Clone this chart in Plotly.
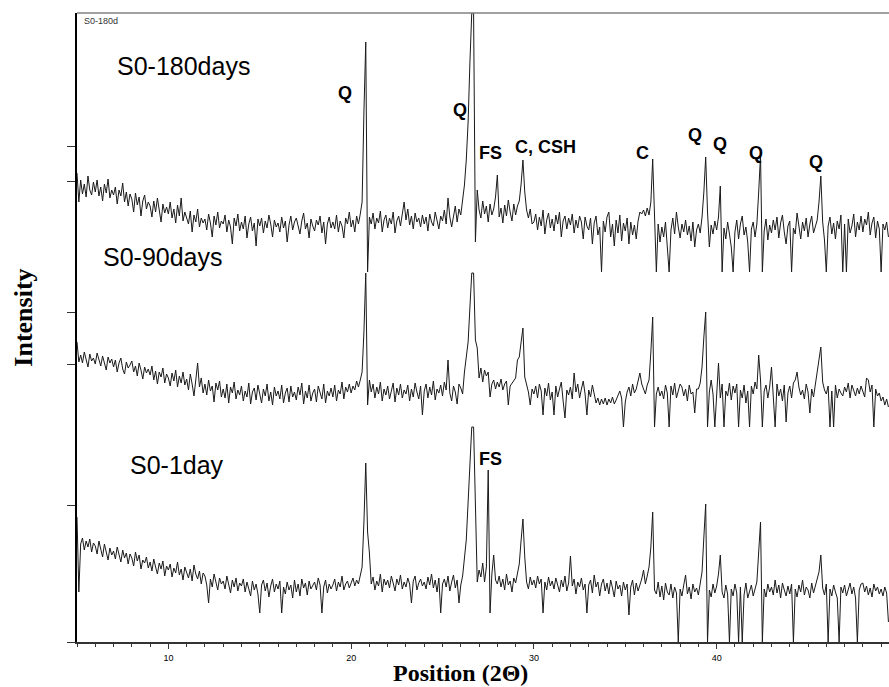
import numpy as np
import plotly.graph_objects as go

# ---------------- data ----------------
theta_start = 5.0
theta_step = 0.1

# S0-180days (offset trace, arbitrary intensity units)
s0_180days = [
    469, 440, 462, 448, 458, 445, 466, 452, 447, 460,   # 5
    450, 462, 446, 455, 441, 458, 449, 463, 444, 452,   # 6
    447, 455, 438, 452, 446, 459, 440, 450, 436, 448,   # 7
    443, 430, 449, 437, 445, 426, 441, 447, 433, 440,   # 8
    436, 425, 441, 430, 444, 432, 420, 438, 429, 435,   # 9
    428, 440, 424, 433, 419, 437, 426, 444, 421, 430,   # 10
    425, 418, 431, 410, 427, 420, 433, 415, 424, 419,   # 11
    423, 412, 428, 419, 405, 426, 417, 430, 414, 421,   # 12
    418, 427, 410, 422, 415, 398, 424, 416, 428, 411,   # 13
    420, 413, 426, 404, 418, 425, 411, 419, 396, 423,   # 14
    416, 424, 409, 421, 414, 427, 418, 405, 422, 415,   # 15
    419, 410, 425, 414, 421, 400, 417, 426, 412, 420,   # 16
    424, 415, 408, 421, 429, 413, 419, 404, 423, 416,   # 17
    411, 422, 417, 426, 409, 420, 398, 418, 425, 414,   # 18
    420, 413, 427, 410, 421, 416, 404, 424, 418, 430,   # 19
    415, 422, 410, 426, 418, 428, 440, 530, 600, 370,   # 20
    425, 418, 429, 413, 424, 419, 431, 410, 422, 427,   # 21
    414, 424, 418, 430, 409, 421, 426, 416, 428, 440,   # 22
    422, 433, 417, 426, 413, 429, 420, 424, 415, 427,   # 23
    418, 425, 411, 428, 420, 416, 430, 422, 413, 426,   # 24
    421, 432, 418, 444, 425, 415, 428, 436, 420, 433,   # 25
    427, 442, 457, 482, 520, 580, 629, 629, 400, 452,   # 26
    432, 424, 441, 428, 436, 420, 438, 427, 433, 445,   # 27
    467, 425, 434, 419, 437, 426, 442, 430, 421, 438,   # 28
    427, 436, 441, 458, 482, 450, 432, 424, 433, 418,   # 29
    420, 428, 412, 425, 416, 432, 408, 422, 429, 414,   # 30
    423, 411, 427, 418, 430, 405, 421, 426, 413, 424,   # 31
    417, 428, 409, 422, 414, 426, 420, 403, 425, 416,   # 32
    412, 424, 398, 419, 426, 407, 415, 370, 421, 410,   # 33
    425, 430, 405, 418, 396, 422, 409, 427, 401, 419,   # 34
    411, 424, 398, 420, 407, 417, 403, 421, 430, 428,   # 35
    432, 426, 434, 427, 440, 483, 412, 370, 418, 400,   # 36
    415, 405, 420, 398, 370, 412, 424, 408, 430, 415,   # 37
    404, 418, 410, 422, 407, 416, 401, 420, 395, 412,   # 38
    418, 409, 425, 450, 485, 430, 395, 417, 408, 421,   # 39
    412, 425, 456, 370, 414, 403, 420, 408, 395, 370,   # 40
    410, 422, 403, 418, 426, 407, 415, 400, 370, 413,   # 41
    420, 405, 418, 450, 487, 370, 411, 423, 402, 417,   # 42
    409, 422, 412, 425, 404, 419, 427, 410, 398, 416,   # 43
    421, 370, 414, 408, 429, 416, 403, 420, 411, 424,   # 44
    405, 418, 426, 409, 415, 422, 440, 466, 420, 402,   # 45
    370, 416, 425, 408, 419, 403, 421, 413, 427, 370,   # 46
    418, 370, 423, 409, 416, 428, 405, 420, 412, 426,   # 47
    410, 423, 417, 430, 407, 419, 425, 404, 421, 413,   # 48
    370, 418, 412, 420, 405,                            # 49
]

# S0-90days
s0_90days = [
    300, 280, 287, 279, 290, 282, 275, 288, 281, 284,   # 5
    278, 289, 283, 276, 286, 280, 272, 285, 279, 283,   # 6
    275, 282, 270, 279, 284, 273, 268, 280, 274, 277,   # 7
    281, 270, 276, 266, 279, 272, 263, 275, 269, 273,   # 8
    267, 276, 262, 271, 258, 270, 265, 274, 259, 268,   # 9
    264, 256, 269, 261, 272, 255, 266, 259, 270, 257,   # 10
    263, 252, 268, 258, 246, 262, 279, 255, 264, 249,   # 11
    258, 247, 262, 251, 256, 240, 259, 252, 261, 245,   # 12
    253, 244, 258, 239, 255, 249, 260, 243, 252, 247,   # 13
    256, 241, 251, 245, 259, 238, 250, 254, 242, 257,   # 14
    248, 239, 253, 246, 258, 241, 250, 237, 255, 246,   # 15
    251, 243, 257, 239, 249, 254, 240, 256, 245, 250,   # 16
    242, 255, 247, 259, 238, 251, 244, 257, 241, 249,   # 17
    253, 240, 256, 248, 243, 258, 239, 251, 246, 254,   # 18
    245, 257, 241, 252, 248, 260, 243, 255, 250, 258,   # 19
    249, 256, 252, 261, 255, 262, 270, 310, 369, 237,   # 20
    262, 250, 258, 244, 255, 248, 260, 241, 253, 247,   # 21
    256, 243, 251, 259, 240, 254, 247, 258, 244, 252,   # 22
    248, 257, 241, 253, 245, 259, 250, 243, 256, 227,   # 23
    251, 258, 244, 255, 247, 261, 242, 253, 249, 257,   # 24
    246, 260, 252, 282, 249, 241, 256, 250, 238, 258,   # 25
    254, 248, 270, 283, 300, 335, 369, 369, 302, 294,   # 26
    264, 274, 260, 272, 266, 270, 245, 258, 262, 253,   # 27
    260, 255, 263, 252, 258, 261, 237, 256, 259, 262,   # 28
    264, 282, 285, 300, 314, 265, 257, 250, 237, 253,   # 29
    248, 256, 244, 258, 251, 227, 254, 246, 259, 242,   # 30
    250, 227, 256, 245, 253, 260, 241, 224, 252, 247,   # 31
    255, 243, 269, 250, 258, 244, 253, 261, 248, 227,   # 32
    252, 245, 257, 249, 239, 244, 237, 243, 238, 244,   # 33
    237, 243, 239, 245, 238, 242, 247, 251, 244, 215,   # 34
    240, 250, 255, 246, 258, 249, 253, 262, 269, 258,   # 35
    252, 248, 257, 262, 290, 325, 215, 248, 255, 246,   # 36
    251, 243, 257, 249, 215, 256, 247, 259, 244, 252,   # 37
    258, 255, 246, 253, 241, 257, 248, 250, 229, 253,   # 38
    253, 259, 275, 305, 330, 215, 250, 262, 248, 215,   # 39
    255, 279, 244, 258, 215, 251, 246, 259, 242, 256,   # 40
    249, 258, 215, 252, 244, 257, 239, 251, 215, 256,   # 41
    248, 260, 253, 287, 262, 215, 251, 257, 244, 255,   # 42
    275, 250, 215, 258, 246, 253, 241, 257, 220, 249,   # 43
    256, 244, 259, 262, 270, 255, 247, 252, 243, 258,   # 44
    250, 229, 253, 245, 257, 268, 280, 295, 260, 252,   # 45
    248, 256, 215, 251, 215, 257, 244, 253, 249, 246,   # 46
    255, 250, 259, 244, 257, 251, 246, 254, 248, 256,   # 47
    251, 245, 264, 262, 250, 257, 215, 253, 246, 249,   # 48
    241, 245, 237, 243, 235,                            # 49
]

# S0-1day
s0_1day = [
    125, 50, 98, 104, 92, 101, 95, 103, 90, 99,         # 5
    96, 88, 101, 93, 85, 98, 90, 82, 94, 87,            # 6
    91, 83, 95, 86, 80, 92, 84, 89, 78, 88,             # 7
    84, 76, 90, 81, 87, 73, 82, 79, 85, 74,             # 8
    80, 71, 83, 75, 68, 79, 73, 81, 66, 76,             # 9
    72, 78, 65, 74, 69, 80, 67, 73, 62, 75,             # 10
    70, 64, 73, 61, 77, 68, 63, 71, 58, 69,             # 11
    66, 57, 39, 63, 55, 68, 60, 52, 64, 58,             # 12
    61, 53, 66, 57, 49, 62, 55, 64, 51, 59,             # 13
    56, 63, 50, 60, 54, 46, 61, 52, 58, 48,             # 14
    29, 57, 62, 51, 59, 45, 56, 63, 50, 58,             # 15
    53, 61, 29, 55, 48, 60, 52, 57, 44, 62,             # 16
    50, 58, 46, 63, 54, 59, 47, 61, 53, 56,             # 17
    60, 52, 64, 57, 29, 55, 62, 49, 58, 53,             # 18
    57, 63, 51, 60, 55, 66, 52, 58, 61, 54,             # 19
    59, 64, 56, 62, 58, 66, 75, 120, 179, 110,          # 20
    89, 58, 65, 52, 61, 56, 68, 50, 63, 57,             # 21
    62, 54, 66, 59, 51, 63, 57, 67, 53, 60,             # 22
    55, 64, 58, 39, 61, 66, 52, 59, 63, 56,             # 23
    60, 53, 65, 57, 68, 54, 62, 50, 64, 29,             # 24
    58, 63, 55, 66, 51, 60, 67, 54, 62, 39,             # 25
    57, 66, 84, 102, 140, 185, 215, 215, 130, 60,       # 26
    72, 65, 79, 60, 75, 172, 29, 68, 87, 62,            # 27
    58, 66, 55, 63, 52, 68, 57, 61, 50, 64,             # 28
    59, 67, 78, 102, 123, 85, 60, 53, 65, 57,           # 29
    62, 54, 66, 58, 63, 29, 60, 52, 65, 56,             # 30
    61, 53, 64, 57, 50, 62, 55, 66, 51, 59,             # 31
    86, 56, 63, 48, 60, 55, 64, 52, 58, 29,             # 32
    57, 62, 49, 67, 55, 60, 46, 58, 63, 51,             # 33
    59, 48, 62, 54, 45, 61, 53, 57, 46, 60,             # 34
    52, 58, 27, 55, 62, 47, 59, 51, 56, 63,             # 35
    72, 58, 66, 75, 95, 130, 52, 48, 60, 45,            # 36
    56, 42, 59, 50, 47, 58, 44, 55, 49, 0,              # 37
    53, 46, 57, 67, 48, 55, 43, 58, 50, 54,             # 38
    47, 59, 70, 105, 138, 0, 52, 45, 58, 49,            # 39
    56, 68, 87, 50, 44, 57, 48, 0, 53, 46,              # 40
    58, 49, 0, 55, 0, 47, 59, 44, 52, 57,               # 41
    46, 54, 60, 90, 120, 0, 53, 45, 58, 50,             # 42
    55, 47, 62, 49, 57, 44, 59, 52, 46, 56,             # 43
    48, 58, 0, 53, 45, 57, 50, 62, 47, 55,              # 44
    52, 44, 59, 49, 56, 62, 70, 87, 54, 47,             # 45
    58, 0, 53, 46, 57, 50, 44, 0, 55, 49,               # 46
    57, 46, 53, 59, 48, 55, 44, 0, 52, 58,              # 47
    59, 50, 56, 47, 54, 45, 58, 51, 55, 48,             # 48
    53, 46, 55, 49, 20,                                 # 49
]

# main quartz reflection marker (2-theta)
q_main_peak = 26.72

# sample labels: (text, 2theta, intensity)
sample_labels = ["S0-180days", "S0-90days", "S0-1day"]
sample_label_x = [10.8, 9.71, 10.45]
sample_label_y = [576, 385, 177]

# phase labels
phase_labels = ["Q", "Q", "FS", "C, CSH", "C", "Q", "Q", "Q", "Q", "FS"]
phase_label_x = [19.67, 25.94, 27.63, 30.66, 35.92, 38.79, 40.2, 42.13, 45.46, 27.63]
phase_label_y = [549, 532, 489, 495, 489, 507, 498, 489, 480, 183]

x_tick_vals = [10, 20, 30, 40]
x_tick_text = ["10", "20", "30", "40"]
y_tick_vals = [0, 137, 278, 330, 461, 496]

x_range = [5.0, 49.43]
y_range = [0, 629]

# ---------------- figure ----------------
n = len(s0_180days)
assert n == len(s0_90days) == len(s0_1day) == 445
two_theta = np.round(theta_start + theta_step * np.arange(n), 2)

fig = go.Figure()
line_style = dict(color="#1a1a1a", width=1)
for name, ys in [("S0-1day", s0_1day), ("S0-90days", s0_90days), ("S0-180days", s0_180days)]:
    fig.add_trace(go.Scatter(x=two_theta, y=ys, mode="lines", line=line_style,
                             name=name, showlegend=False, hoverinfo="skip"))

fig.add_vline(x=q_main_peak, line=dict(color="#1a1a1a", width=1.2))

sans = "Liberation Sans, Arial, sans-serif"
serif = "Liberation Serif, Times New Roman, serif"

annotations = []
for t, x, y in zip(sample_labels, sample_label_x, sample_label_y):
    annotations.append(dict(x=x, y=y, xref="x", yref="y", text=t, showarrow=False,
                            font=dict(family=sans, size=25, color="black"),
                            xanchor="center", yanchor="middle"))
for t, x, y in zip(phase_labels, phase_label_x, phase_label_y):
    annotations.append(dict(x=x, y=y, xref="x", yref="y", text="<b>%s</b>" % t, showarrow=False,
                            font=dict(family=sans, size=18, color="black"),
                            xanchor="center", yanchor="middle"))
annotations.append(dict(x=0.006, y=0.999, xref="paper", yref="paper", text="S0-180d",
                        showarrow=False, font=dict(family=sans, size=9, color="#333"),
                        xanchor="left", yanchor="top"))
annotations.append(dict(x=-0.067, y=0.515, xref="paper", yref="paper", text="<b>Intensity</b>",
                        showarrow=False, textangle=-90,
                        font=dict(family=serif, size=26, color="black"),
                        xanchor="center", yanchor="middle"))
annotations.append(dict(x=0.472, y=-0.0715, xref="paper", yref="paper",
                        text="<b>Position (2\u0398)</b>", showarrow=False,
                        font=dict(family=serif, size=24, color="black"),
                        xanchor="center", yanchor="bottom", borderpad=0))

fig.update_layout(
    width=889, height=687, autosize=False,
    margin=dict(l=77, r=0, t=13, b=45, pad=0),
    paper_bgcolor="white", plot_bgcolor="white",
    annotations=annotations,
    shapes=[dict(type="line", xref="paper", yref="paper", x0=0, x1=1, y0=1, y1=1,
                 line=dict(color="#808080", width=1.5))],
)
fig.update_xaxes(range=x_range, showgrid=False, zeroline=False,
                 showline=True, linecolor="#333", linewidth=1.5,
                 tickmode="array", tickvals=x_tick_vals, ticktext=x_tick_text,
                 ticks="outside", ticklen=5, tickcolor="#333", tickwidth=1,
                 ticklabelstandoff=1,
                 tickfont=dict(family=sans, size=9, color="black"),
                 minor=dict(dtick=1, tick0=0, ticks="outside", ticklen=3, tickcolor="#333", showgrid=False),
                 automargin=False)
fig.update_yaxes(range=y_range, showgrid=False, zeroline=False,
                 showline=True, linecolor="black", linewidth=1.5,
                 tickmode="array", tickvals=y_tick_vals, ticks="outside", ticklen=8,
                 tickcolor="#333", showticklabels=False, automargin=False)

fig.write_html("out.html", config={"displayModeBar": False},
               post_script="document.body.style.margin='0';document.body.style.overflow='hidden';")
